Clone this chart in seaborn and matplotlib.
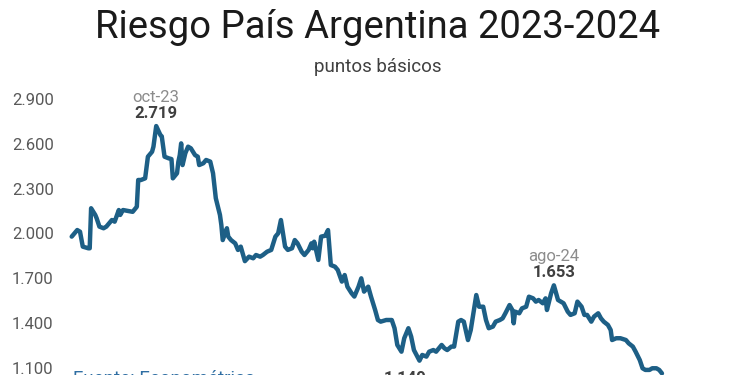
import matplotlib
matplotlib.use("Agg")
import matplotlib.pyplot as plt
import seaborn as sns
import pandas as pd

fechas = [
    "2023-08-23", "2023-08-27", "2023-08-29", "2023-08-31", "2023-09-04", "2023-09-05",
    "2023-09-06", "2023-09-09", "2023-09-10", "2023-09-12", "2023-09-15", "2023-09-17",
    "2023-09-18", "2023-09-21", "2023-09-23", "2023-09-26", "2023-09-27", "2023-09-29",
    "2023-10-03", "2023-10-06", "2023-10-09", "2023-10-10", "2023-10-12", "2023-10-15",
    "2023-10-17", "2023-10-20", "2023-10-21", "2023-10-23", "2023-10-26", "2023-10-27",
    "2023-10-29", "2023-11-01", "2023-11-03", "2023-11-04", "2023-11-07", "2023-11-08",
    "2023-11-09", "2023-11-10", "2023-11-11", "2023-11-13", "2023-11-15", "2023-11-17",
    "2023-11-20", "2023-11-22", "2023-11-23", "2023-11-26", "2023-11-28", "2023-12-01",
    "2023-12-03", "2023-12-05", "2023-12-08", "2023-12-09", "2023-12-10", "2023-12-13",
    "2023-12-14", "2023-12-16", "2023-12-19", "2023-12-21", "2023-12-23", "2023-12-26",
    "2023-12-29", "2024-01-01", "2024-01-03", "2024-01-06", "2024-01-08", "2024-01-11",
    "2024-01-14", "2024-01-17", "2024-01-19", "2024-01-21", "2024-01-24", "2024-01-26",
    "2024-01-29", "2024-01-31", "2024-02-02", "2024-02-05", "2024-02-07", "2024-02-10",
    "2024-02-12", "2024-02-13", "2024-02-14", "2024-02-17", "2024-02-19", "2024-02-22",
    "2024-02-24", "2024-02-26", "2024-02-29", "2024-03-02", "2024-03-05", "2024-03-07",
    "2024-03-09", "2024-03-12", "2024-03-14", "2024-03-17", "2024-03-19", "2024-03-21",
    "2024-03-24", "2024-03-26", "2024-03-29", "2024-03-31", "2024-04-02", "2024-04-06",
    "2024-04-10", "2024-04-12", "2024-04-14", "2024-04-17", "2024-04-19", "2024-04-22",
    "2024-04-24", "2024-04-26", "2024-04-30", "2024-05-02", "2024-05-05", "2024-05-07",
    "2024-05-10", "2024-05-12", "2024-05-16", "2024-05-18", "2024-05-20", "2024-05-23",
    "2024-05-25", "2024-05-28", "2024-05-30", "2024-06-01", "2024-06-04", "2024-06-06",
    "2024-06-10", "2024-06-12", "2024-06-15", "2024-06-17", "2024-06-19", "2024-06-22",
    "2024-06-24", "2024-06-27", "2024-06-29", "2024-07-01", "2024-07-04", "2024-07-06",
    "2024-07-07", "2024-07-08", "2024-07-11", "2024-07-13", "2024-07-16", "2024-07-18",
    "2024-07-21", "2024-07-23", "2024-07-25", "2024-07-28", "2024-07-30", "2024-07-31",
    "2024-08-03", "2024-08-05", "2024-08-08", "2024-08-10", "2024-08-12", "2024-08-15",
    "2024-08-17", "2024-08-20", "2024-08-22", "2024-08-25", "2024-08-27", "2024-08-29",
    "2024-09-01", "2024-09-03", "2024-09-06", "2024-09-08", "2024-09-10", "2024-09-13",
    "2024-09-15", "2024-09-16", "2024-09-19", "2024-09-22", "2024-09-26", "2024-09-28",
    "2024-10-01", "2024-10-03", "2024-10-06", "2024-10-08", "2024-10-10", "2024-10-13",
    "2024-10-15", "2024-10-18", "2024-10-20", "2024-10-22",
]

puntos = [
    1979, 2023, 2012, 1912, 1901, 1901,
    2169, 2124, 2102, 2046, 2035, 2046,
    2057, 2090, 2079, 2157, 2124, 2157,
    2150, 2145, 2179, 2358, 2358, 2369,
    2514, 2547, 2581, 2719, 2659, 2650,
    2514, 2503, 2498, 2369, 2403, 2481,
    2525, 2603, 2458, 2537, 2581, 2570,
    2525, 2514, 2458, 2470, 2492, 2481,
    2403, 2236, 2124, 2057, 1956, 2035,
    1979, 1956, 1934, 1890, 1912, 1815,
    1845, 1834, 1856, 1845, 1856, 1878,
    1890, 1979, 2001, 2090, 1912, 1890,
    1901, 1956, 1934, 1878, 1856, 1890,
    1934, 1901, 1945, 1823, 1979, 1985,
    2023, 1789, 1778, 1756, 1678, 1722,
    1644, 1600, 1578, 1644, 1700, 1611,
    1644, 1578, 1488, 1421, 1410, 1421,
    1421, 1366, 1254, 1209, 1299, 1366,
    1310, 1220, 1149, 1187, 1176, 1209,
    1220, 1209, 1254, 1232, 1220, 1243,
    1243, 1410, 1421, 1410, 1287, 1354,
    1588, 1510, 1510, 1421, 1366, 1377,
    1410, 1421, 1432, 1466, 1521, 1488,
    1399, 1477, 1466, 1499, 1510, 1577,
    1566, 1544, 1555, 1533, 1566, 1488,
    1600, 1653, 1555, 1544, 1533, 1477,
    1455, 1466, 1544, 1510, 1455, 1455,
    1410, 1444, 1466, 1432, 1410, 1388,
    1354, 1287, 1299, 1299, 1287, 1265,
    1243, 1209, 1153, 1098, 1087, 1087,
    1098, 1098, 1087, 1064,
]

ticks_y = [800, 1100, 1400, 1700, 2000, 2300, 2600, 2900]

destacados = [
    ("2023-10-23", 2719, "oct-23", "arriba"),
    ("2024-08-05", 1653, "ago-24", "arriba"),
    ("2024-04-30", 1149, "", "abajo"),
]

titulo = "Riesgo País Argentina 2023-2024"
subtitulo = "puntos básicos"
fuente = "Fuente: Econométrica"

df = pd.DataFrame({"fecha": pd.to_datetime(fechas), "puntos": puntos})

sns.set_theme(style="white")
plt.rcParams["font.family"] = ["Roboto", "DejaVu Sans"]

fig = plt.figure(figsize=(7.5, 3.75), dpi=100)
ax = fig.add_axes([0.0956, -0.1008, 0.787, 0.8368])

azul = "#1d5f86"
sns.lineplot(data=df, x="fecha", y="puntos", ax=ax, color=azul, linewidth=3.2,
             solid_joinstyle="round", solid_capstyle="round", clip_on=False)

ax.set_xlim(df["fecha"].min(), df["fecha"].max())
ax.set_ylim(ticks_y[0], ticks_y[-1])
ax.set_yticks(ticks_y)
ax.set_yticklabels([f"{v:,}".replace(",", ".") for v in ticks_y])
ax.tick_params(axis="y", length=0, pad=13, labelsize=12, labelcolor="#595959")
ax.set_xticks([])
ax.set_xlabel("")
ax.set_ylabel("")
for s in ax.spines.values():
    s.set_visible(False)

fmt = lambda v: f"{v:,}".replace(",", ".")
for f, v, lab, pos in destacados:
    x = pd.Timestamp(f)
    if pos == "arriba":
        ax.annotate(lab, xy=(x, v), xytext=(0, 20.5), textcoords="offset points",
                    ha="center", va="center", fontsize=12, color="#8c8c8c",
                    annotation_clip=False)
        ax.annotate(fmt(v), xy=(x, v), xytext=(0, 9), textcoords="offset points",
                    ha="center", va="center", fontsize=12, fontweight="bold",
                    color="#404040", annotation_clip=False)
    else:
        ax.annotate(fmt(v), xy=(x, v), xytext=(-10, -13), textcoords="offset points",
                    ha="center", va="center", fontsize=12, fontweight="bold",
                    color="#404040", annotation_clip=False)

fig.text(0.503, 0.928, titulo, ha="center", va="center", fontsize=27.5, color="#1a1a1a")
fig.text(0.503, 0.822, subtitulo, ha="center", va="center", fontsize=13.5, color="#404040")
fig.text(0.097, 1 - 370 / 375, fuente, ha="left", va="top", fontsize=13.5, color="#2f6ea3")

fig.savefig("out.png", dpi=100)
